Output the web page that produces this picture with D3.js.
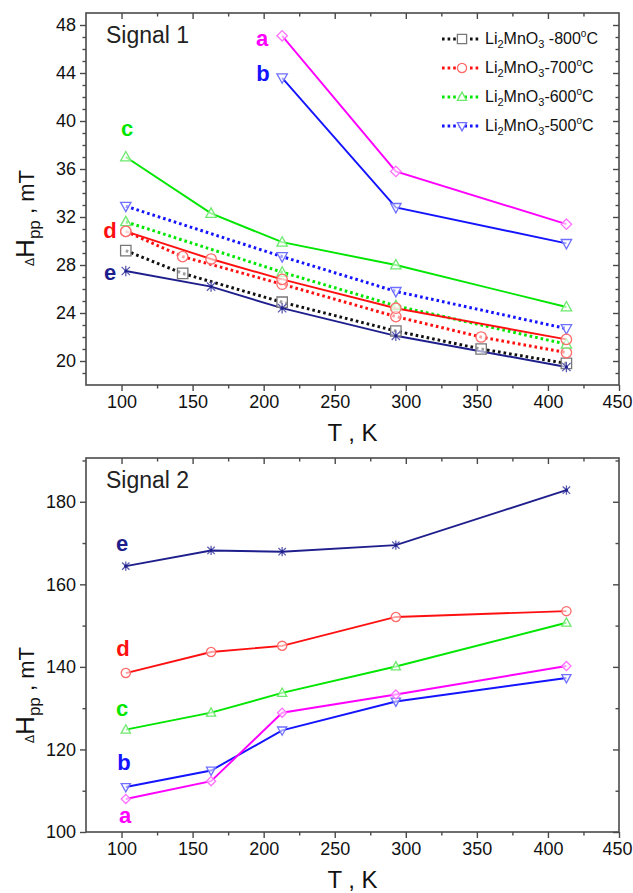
<!DOCTYPE html>
<html>
<head>
<meta charset="utf-8">
<script src="https://cdn.jsdelivr.net/npm/d3@7"></script>
<style>
  body { margin: 0; background: #fff; }
  text { font-family: "Liberation Sans", Arial, sans-serif; }
</style>
</head>
<body>
<script>
"use strict";

// ---------- data ----------
// Signal 1, solid curves a..e
var s1_t_ab = [213, 293, 413];
var s1_t = [103, 163, 213, 293, 413];
var s1_a = [47.1, 35.8, 31.4];
var s1_b = [43.6, 32.8, 29.8];
var s1_c = [37.0, 32.3, 29.9, 28.0, 24.5];
var s1_d = [30.8, 28.5, 26.8, 24.4, 21.8];
var s1_e = [27.5, 26.2, 24.4, 22.1, 19.5];

// Signal 1, dotted curves (legend)
var t_800 = [103, 143, 213, 293, 353, 413];
var v_800 = [29.2, 27.3, 24.9, 22.5, 21.0, 19.8];
var t_700 = [103, 143, 213, 293, 353, 413];
var v_700 = [30.8, 28.7, 26.4, 23.7, 22.0, 20.7];
var t_600 = [103, 213, 293, 413];
var v_600 = [31.6, 27.4, 24.6, 21.4];
var t_500 = [103, 213, 293, 413];
var v_500 = [32.9, 28.7, 25.8, 22.7];
var legend_temps = ['800', '700', '600', '500'];

// Signal 2, solid curves a..e
var s2_t = [103, 163, 213, 293, 413];
var s2_a = [108.0, 112.3, 128.9, 133.3, 140.2];
var s2_b = [110.9, 114.9, 124.6, 131.6, 137.3];
var s2_c = [124.8, 128.9, 133.7, 140.1, 150.7];
var s2_d = [138.5, 143.6, 145.1, 152.1, 153.5];
var s2_e = [164.4, 168.2, 167.9, 169.5, 182.8];

// ticks
var x_major = [100, 150, 200, 250, 300, 350, 400, 450];
var x_minor = [125, 175, 225, 275, 325, 375, 425];
var y1_major = [20, 24, 28, 32, 36, 40, 44, 48];
var y2_major = [100, 120, 140, 160, 180];
var y2_minor = [110, 130, 150, 170, 190];

// ---------- layout ----------
var width = 633, height = 893;
var left = 86, right = 619;
var font = '"Liberation Sans", Arial, sans-serif';

var colors = {
  a: '#ff00ff', b: '#1414ff', c: '#00e600', d: '#ff1010', e: '#1e1e8c',
  k800: '#111111', k700: '#ff1010', k600: '#00e600', k500: '#1414ff'
};
var marker_colors = {
  a: '#ff70ff', b: '#7070ff', c: '#6ee86e', d: '#ff6a6a', e: '#5a5ab0',
  k800: '#777777', k700: '#ff6a6a', k600: '#6ee86e', k500: '#7070ff'
};

var svg = d3.select('body')
  .append('svg')
  .attr('width', width)
  .attr('height', height);

function zip(ts, vs) {
  return ts.map(function(t, i) { return {t: t, v: vs[i]}; });
}

function markerPath(shape, r) {
  if (shape === 'square') {
    return 'M' + (-r) + ',' + (-r) + 'h' + 2 * r + 'v' + 2 * r + 'h' + (-2 * r) + 'Z';
  }
  if (shape === 'circle') {
    return 'M' + r + ',0A' + r + ',' + r + ' 0 1,1 ' + (-r) + ',0A' + r + ',' + r + ' 0 1,1 ' + r + ',0Z';
  }
  if (shape === 'up') {
    return 'M0,' + (-r * 1.05) + 'L' + r + ',' + (r * 0.75) + 'L' + (-r) + ',' + (r * 0.75) + 'Z';
  }
  if (shape === 'down') {
    return 'M0,' + (r * 1.05) + 'L' + r + ',' + (-r * 0.75) + 'L' + (-r) + ',' + (-r * 0.75) + 'Z';
  }
  if (shape === 'diamond') {
    return 'M0,' + (-r) + 'L' + r + ',0L0,' + r + 'L' + (-r) + ',0Z';
  }
  // asterisk
  var q = r * 0.8;
  return 'M' + (-q) + ',' + (-q) + 'L' + q + ',' + q + 'M' + (-q) + ',' + q + 'L' + q + ',' + (-q) +
         'M0,' + (-r) + 'L0,' + r;
}

function drawPanel(cfg) {
  var x = d3.scaleLinear().domain([75, 450]).range([left, right]);
  var y = d3.scaleLinear().domain(cfg.y_domain).range([cfg.bottom, cfg.top]);

  var g = svg.append('g').attr('class', 'panel');

  // frame
  g.append('rect')
    .attr('x', left).attr('y', cfg.top)
    .attr('width', right - left).attr('height', cfg.bottom - cfg.top)
    .style('fill', 'none').style('stroke', '#4a4a4a').style('stroke-width', 1.6);

  var tick_color = '#4a4a4a';

  // bottom axis: labels + outward ticks, top: inward ticks
  var xb = d3.axisBottom(x).tickValues(x_major).tickSize(6).tickPadding(4);
  var xb_g = g.append('g').attr('transform', 'translate(0,' + cfg.bottom + ')').call(xb);
  xb_g.select('.domain').remove();
  xb_g.selectAll('text')
    .attr('font-family', font).attr('font-size', '18px').attr('fill', '#111');
  // last label sits on the page edge: keep it inside
  xb_g.selectAll('.tick')
    .filter(function(d) { return d === 450; })
    .select('text')
    .style('text-anchor', 'end')
    .attr('x', width - 1 - right);

  var xb_minor = g.append('g').attr('transform', 'translate(0,' + cfg.bottom + ')')
    .call(d3.axisBottom(x).tickValues(x_minor).tickSize(3.5).tickFormat(''));
  xb_minor.select('.domain').remove();

  var xt = g.append('g').attr('transform', 'translate(0,' + cfg.top + ')')
    .call(d3.axisBottom(x).tickValues(x_major.filter(function(d) { return d < 450; })).tickSize(6).tickFormat(''));
  xt.select('.domain').remove();
  var xt_minor = g.append('g').attr('transform', 'translate(0,' + cfg.top + ')')
    .call(d3.axisBottom(x).tickValues(x_minor).tickSize(3.5).tickFormat(''));
  xt_minor.select('.domain').remove();

  // left axis outward, right axis inward
  var yl = g.append('g').attr('transform', 'translate(' + left + ',0)')
    .call(d3.axisLeft(y).tickValues(cfg.y_major).tickSize(6).tickPadding(4));
  yl.select('.domain').remove();
  yl.selectAll('text')
    .attr('font-family', font).attr('font-size', '18px').attr('fill', '#111');
  var yl_minor = g.append('g').attr('transform', 'translate(' + left + ',0)')
    .call(d3.axisLeft(y).tickValues(cfg.y_minor).tickSize(3.5).tickFormat(''));
  yl_minor.select('.domain').remove();

  var yr = g.append('g').attr('transform', 'translate(' + right + ',0)')
    .call(d3.axisLeft(y).tickValues(cfg.y_major).tickSize(6).tickFormat(''));
  yr.select('.domain').remove();
  var yr_minor = g.append('g').attr('transform', 'translate(' + right + ',0)')
    .call(d3.axisLeft(y).tickValues(cfg.y_minor).tickSize(3.5).tickFormat(''));
  yr_minor.select('.domain').remove();

  g.selectAll('.tick line').style('stroke', tick_color).style('stroke-width', 1.4);

  var line = d3.line()
    .x(function(d) { return x(d.t); })
    .y(function(d) { return y(d.v); });

  // dotted series first, then solid
  cfg.series.forEach(function(s) {
    g.append('path')
      .datum(s.data)
      .attr('d', line)
      .style('fill', 'none')
      .style('stroke', colors[s.key])
      .style('stroke-width', s.dotted ? 3 : 1.9)
      .style('stroke-dasharray', s.dotted ? '2.6,3' : null);
  });

  cfg.series.forEach(function(s) {
    g.selectAll(null)
      .data(s.data)
      .enter()
      .append('path')
      .attr('transform', function(d) { return 'translate(' + x(d.t) + ',' + y(d.v) + ')'; })
      .attr('d', markerPath(s.shape, cfg.marker_r))
      .style('fill', s.shape === 'asterisk' ? 'none' : '#fff')
      .style('fill-opacity', 0.6)
      .style('stroke', marker_colors[s.key])
      .style('stroke-width', 1.3);
    if (s.shape === 'asterisk') {
      g.selectAll(null)
        .data(s.data)
        .enter()
        .append('circle')
        .attr('cx', function(d) { return x(d.t); })
        .attr('cy', function(d) { return y(d.v); })
        .attr('r', 1.6)
        .style('fill', colors.e);
    }
  });

  // curve letters
  cfg.letters.forEach(function(l) {
    g.append('text')
      .attr('x', l.x).attr('y', l.y)
      .attr('font-family', font)
      .attr('font-size', '22px')
      .attr('font-weight', 'bold')
      .attr('fill', colors[l.key])
      .style('text-anchor', 'middle')
      .attr('dy', '0.35em')
      .text(l.key);
  });

  // panel title
  g.append('text')
    .attr('x', 106).attr('y', cfg.top + 30)
    .attr('font-family', font).attr('font-size', '23px').attr('fill', '#222')
    .text(cfg.title);

  // x axis title
  g.append('text')
    .attr('x', (left + right) / 2).attr('y', cfg.bottom + 56)
    .attr('font-family', font).attr('font-size', '24px').attr('fill', '#111')
    .style('text-anchor', 'middle')
    .text('T , K');

  // y axis title
  var yt = g.append('text')
    .attr('transform', 'translate(34,' + cfg.label_y + ') rotate(-90)')
    .attr('font-family', font).attr('fill', '#111')
    .style('text-anchor', 'middle');
  yt.append('tspan').attr('font-size', '12px').text('\u0394');
  yt.append('tspan').attr('font-size', '26px').text('H');
  yt.append('tspan').attr('font-size', '17px').attr('dy', 6).text('pp');
  yt.append('tspan').attr('font-size', '22px').attr('dy', -6).text(' , mT');

  return {x: x, y: y, g: g};
}

var panel1 = drawPanel({
  top: 13, bottom: 385, y_domain: [18, 49],
  y_major: y1_major,
  y_minor: d3.range(19, 49).filter(function(d) { return d % 4 !== 0; }),
  marker_r: 5.2,
  title: 'Signal 1',
  label_y: 218,
  series: [
    {key: 'k800', data: zip(t_800, v_800), shape: 'square', dotted: true},
    {key: 'k700', data: zip(t_700, v_700), shape: 'circle', dotted: true},
    {key: 'k600', data: zip(t_600, v_600), shape: 'up', dotted: true},
    {key: 'k500', data: zip(t_500, v_500), shape: 'down', dotted: true},
    {key: 'e', data: zip(s1_t, s1_e), shape: 'asterisk'},
    {key: 'd', data: zip(s1_t, s1_d), shape: 'circle'},
    {key: 'c', data: zip(s1_t, s1_c), shape: 'up'},
    {key: 'b', data: zip(s1_t_ab, s1_b), shape: 'down'},
    {key: 'a', data: zip(s1_t_ab, s1_a), shape: 'diamond'}
  ],
  letters: [
    {key: 'a', x: 262, y: 38},
    {key: 'b', x: 263, y: 73},
    {key: 'c', x: 127, y: 128},
    {key: 'd', x: 110, y: 230},
    {key: 'e', x: 110, y: 272}
  ]
});

var panel2 = drawPanel({
  top: 458, bottom: 832, y_domain: [100, 190.6],
  y_major: y2_major,
  y_minor: y2_minor,
  marker_r: 4.6,
  title: 'Signal 2',
  label_y: 695,
  series: [
    {key: 'e', data: zip(s2_t, s2_e), shape: 'asterisk'},
    {key: 'd', data: zip(s2_t, s2_d), shape: 'circle'},
    {key: 'c', data: zip(s2_t, s2_c), shape: 'up'},
    {key: 'b', data: zip(s2_t, s2_b), shape: 'down'},
    {key: 'a', data: zip(s2_t, s2_a), shape: 'diamond'}
  ],
  letters: [
    {key: 'e', x: 122, y: 543},
    {key: 'd', x: 123, y: 648},
    {key: 'c', x: 122, y: 708},
    {key: 'b', x: 124, y: 762},
    {key: 'a', x: 125, y: 815}
  ]
});

// legend (signal 1)
var legend_keys = ['k800', 'k700', 'k600', 'k500'];
var legend_shapes = ['square', 'circle', 'up', 'down'];
var legend = svg.append('g').attr('class', 'legend');

legend_keys.forEach(function(k, i) {
  var ly = 39 + i * 29;
  legend.append('line')
    .attr('x1', 442).attr('x2', 479).attr('y1', ly).attr('y2', ly)
    .style('stroke', colors[k]).style('stroke-width', 3)
    .style('stroke-dasharray', '2.6,3');
  legend.append('path')
    .attr('transform', 'translate(462,' + ly + ')')
    .attr('d', markerPath(legend_shapes[i], 4.6))
    .style('fill', '#fff')
    .style('stroke', marker_colors[k]).style('stroke-width', 1.3);

  var t = legend.append('text')
    .attr('x', 485).attr('y', ly + 5)
    .attr('font-family', font).attr('font-size', '16px').attr('fill', '#111');
  t.append('tspan').text('Li');
  t.append('tspan').attr('font-size', '11px').attr('dy', 4).text('2');
  t.append('tspan').attr('dy', -4).text('MnO');
  t.append('tspan').attr('font-size', '11px').attr('dy', 4).text('3');
  t.append('tspan').attr('dy', -4).text((i === 0 ? ' -' : '-') + legend_temps[i]);
  t.append('tspan').attr('font-size', '10px').attr('dy', -7).text('o');
  t.append('tspan').attr('dy', 7).text('C');
});
</script>
</body>
</html>
